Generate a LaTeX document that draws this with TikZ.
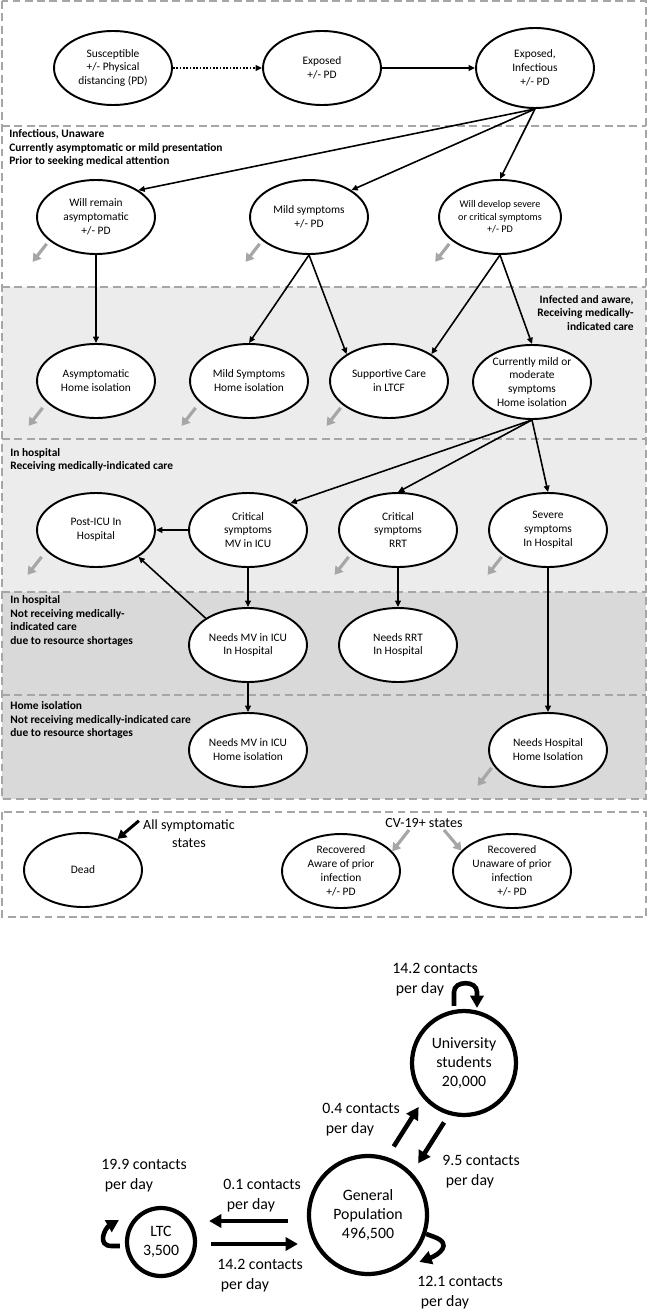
\documentclass[tikz,border=0pt]{standalone}
\usepackage{fontspec}
\setmainfont{Carlito}
\usetikzlibrary{shapes,arrows.meta,calc}
\definecolor{boxgray}{RGB}{166,166,166}
\definecolor{lightbg}{RGB}{236,236,236}
\definecolor{darkbg}{RGB}{217,217,217}
\tikzset{
st/.style={draw,ellipse,fill=white,line width=1.1pt,inner sep=0pt,minimum width=2.36cm,minimum height=1.48cm,align=center,font=\fontsize{6.5}{7.9}\selectfont},
box/.style={draw=boxgray,line width=1.1pt,dash pattern=on 4.5pt off 2.5pt},
lbl/.style={inner sep=0pt,font=\fontsize{6.5}{7.7}\selectfont\bfseries},
note/.style={inner sep=0pt,align=center,font=\fontsize{8}{10.2}\selectfont},
link/.style={-{Triangle[length=3.6pt,width=3.2pt]},line width=0.9pt},
exit/.style={-{Triangle[length=4.5pt,width=5.5pt]},draw=boxgray,line width=1.8pt},
point/.style={-{Triangle[length=5pt,width=5.5pt]},line width=1.7pt},
pop/.style={draw,circle,line width=2.4pt,inner sep=0pt,align=center,font=\fontsize{9}{10.8}\selectfont},
flow/.style={-{Triangle[length=7pt,width=7.5pt]},line width=2.6pt},
rate/.style={anchor=west,align=left,inner sep=0pt,font=\fontsize{9}{11.3}\selectfont},
}

\begin{document}
\begin{tikzpicture}[x=0.02cm,y=0.02cm]
  \useasboundingbox (0,0) rectangle (648,-1311);
  \fill[lightbg] (2,-287) rectangle (646,-592);
  \fill[darkbg] (2,-592) rectangle (646,-799);
  \draw[box] (2,-1) rectangle (646,-799) (2,-812) rectangle (646,-917);
  \draw[box] foreach \y in {126,287,439,592,695} {(2,-\y) -- (646,-\y)};

  \node[lbl,anchor=west,align=left] (unaware) at (9,-148) {Infectious, Unaware\\Currently asymptomatic or mild presentation\\Prior to seeking medical attention};
  \node[lbl,anchor=east,align=right] (aware) at (634,-313) {Infected and aware,\\Receiving medically-\\indicated care};
  \node[lbl,anchor=west,align=left] (hosp) at (10,-460) {In hospital\\Receiving medically-indicated care};
  \node[lbl,anchor=west,align=left] (hospno) at (10,-621) {In hospital\\Not receiving medically-\\indicated care\\due to resource shortages};
  \node[lbl,anchor=west,align=left] (homeno) at (10,-720) {Home isolation\\Not receiving medically-indicated care\\due to resource shortages};

  \node[st] (sus) at (113,-68) {Susceptible\\+/- Physical\\distancing (PD)};
  \node[st] (exp) at (322,-68) {Exposed\\+/- PD};
  \node[st,minimum height=1.6cm] (exinf) at (535,-68) {Exposed,\\Infectious\\+/- PD};
  \node[st] (wr) at (96,-217) {Will remain\\asymptomatic\\+/- PD};
  \node[st] (ms) at (309,-217) {Mild symptoms\\+/- PD};
  \node[st,minimum width=2.44cm,font=\fontsize{5.8}{7.2}\selectfont] (wd) at (500,-217) {Will develop severe\\or critical symptoms\\+/- PD};
  \node[st] (ah) at (96,-381) {Asymptomatic\\Home isolation};
  \node[st] (mh) at (249,-381) {Mild Symptoms\\Home isolation};
  \node[st] (sc) at (389,-381) {Supportive Care\\in LTCF};
  \node[st] (cm) at (532,-382) {Currently mild or\\moderate\\symptoms\\Home isolation};
  \node[st] (post) at (96,-530) {Post-ICU In\\Hospital};
  \node[st] (mv) at (248,-530) {Critical\\symptoms\\MV in ICU};
  \node[st] (rrt) at (398,-530) {Critical\\symptoms\\RRT};
  \node[st] (sev) at (548,-530) {Severe\\symptoms\\In Hospital};
  \node[st] (nmh) at (248,-645) {Needs MV in ICU\\In Hospital};
  \node[st] (nrh) at (398,-645) {Needs RRT\\In Hospital};
  \node[st] (nmhome) at (248,-750) {Needs MV in ICU\\Home isolation};
  \node[st] (nhh) at (548,-750) {Needs Hospital\\Home Isolation};

  \draw[link,densely dotted] (sus) -- (exp);
  \foreach \a/\b in {exp/exinf,exinf.south/wr.north east,exinf.south/ms.north east,exinf.south/wd.north,
    wr/ah,ms.south/mh.north,ms.south/sc.north west,wd.south/sc.north east,wd.south/cm.north,
    cm.south/mv.north east,cm.south/rrt.north,cm.south/sev.north,mv/post,nmh.north west/post.south east,
    mv/nmh,rrt/nrh,nmh/nmhome,sev/nhh}
    \draw[link] (\a) -- (\b);
  \foreach \n/\dx in {wr/-7,ms/-7,wd/-7,ah/-11,mh/-11,sc/-6,post/-12,rrt/-7,sev/-4}
    \draw[exit] ([shift={(\dx,0)}]\n.south west) -- ++(-14,-18);
  \draw[exit] ([shift={(-14,9)}]nhh.south west) -- ++(-14,-18);

  \node[st] (dead) at (83,-870) {Dead};
  \node[st] (ra) at (341,-871) {Recovered\\Aware of prior\\infection\\+/- PD};
  \node[st] (ru) at (512,-871) {Recovered\\Unaware of prior\\infection\\+/- PD};
  \node[note] (allsym) at (189,-834) {All symptomatic\\states};
  \node[note] (cv) at (424,-823) {CV-19+ states};
  \draw[point] ([shift={(-4,-1)}]allsym.north west) -- (dead.42);
  \draw[exit] ([shift={(-15,-2)}]cv.south) -- (ra.21);
  \draw[exit] ([shift={(20,-2)}]cv.south) -- (ru.158);

  \node[pop,minimum size=2.08cm] (uni) at (464,-1063) {University\\students\\20,000};
  \node[pop,minimum size=2.36cm] (gen) at (368,-1215) {General\\Population\\496,500};
  \node[pop,minimum size=1.36cm] (ltc) at (161,-1242) {LTC\\3,500};
  \draw[flow] ([shift={(-10,3)}]uni.north) -- ++(0,14) to[out=90,in=90,looseness=1.3] ++(23,0) -- ([shift={(13,1)}]uni.north);
  \draw[flow] ($(gen)!0.40!(uni)+(-12.7,7.7)$) -- ($(gen)!0.66!(uni)+(-12.7,7.7)$);
  \draw[flow] ($(gen)!0.66!(uni)+(12.7,-7.7)$) -- ($(gen)!0.39!(uni)+(12.7,-7.7)$);
  \draw[flow] ([shift={(-19,-6)}]gen.west) -- ([shift={(12,21)}]ltc.east);
  \draw[flow] ([shift={(14,-2)}]ltc.east) -- ([shift={(-9,-29)}]gen.west);
  \draw[flow] ([shift={(-5,-4)}]ltc.west) -- ++(-8,0) to[out=180,in=210,looseness=1.5] ([shift={(-6,22)}]ltc.west);
  \draw[flow] (gen.-18) -- ++(8,-3) to[out=-20,in=20,looseness=1.8] ([shift={(6,-6)}]gen.-42);
  \node[rate] (runi) at (392,-980) {14.2 contacts\\ \ per day};
  \node[rate] (rup) at (322,-1120) {0.4 contacts\\ \ per day};
  \node[rate] (rdown) at (442,-1172) {9.5 contacts\\ \ per day};
  \node[rate] (rltc) at (101,-1176) {19.9 contacts\\ \ per day};
  \node[rate] (rin) at (223,-1196) {0.1 contacts\\ \ per day};
  \node[rate] (rout) at (217,-1276) {14.2 contacts\\ \ per day};
  \node[rate] (rgen) at (417,-1293) {12.1 contacts\\ \ per day};
\end{tikzpicture}
\end{document}
